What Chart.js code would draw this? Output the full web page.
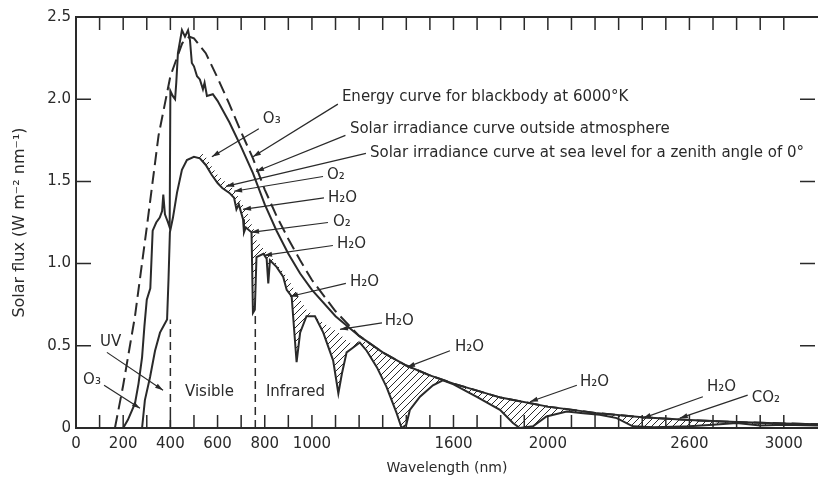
<!DOCTYPE html>
<html>
<head>
<meta charset="utf-8">
<script src="https://cdn.jsdelivr.net/npm/chart.js@4.4.1/dist/chart.umd.min.js"></script>
<style>
  html, body { margin: 0; padding: 0; background: #fff; }
  #wrap { width: 818px; height: 486px; position: relative; }
</style>
</head>
<body>
<div id="wrap"><canvas id="solarChart"></canvas></div>
<script>
// Values (wavelength in nm, flux in W m-2 nm-1)

// Energy curve for blackbody at 6000 K (dashed)
const bbNm   = [165, 200, 250, 300, 350, 400, 450, 480, 500, 550, 600, 650, 700, 750, 800, 850, 900, 950, 1000, 1100, 1200, 1300, 1400, 1500, 1600, 1800, 2000, 2200, 2400, 2600, 2800, 3000, 3150];
const bbFlux = [0, 0.26, 0.68, 1.22, 1.78, 2.14, 2.34, 2.38, 2.37, 2.28, 2.13, 1.97, 1.80, 1.64, 1.45, 1.29, 1.15, 1.02, 0.90, 0.71, 0.56, 0.46, 0.38, 0.32, 0.27, 0.185, 0.13, 0.092, 0.066, 0.048, 0.036, 0.028, 0.023];

// Solar irradiance outside atmosphere
const outNm   = [200, 220, 250, 265, 280, 290, 300, 315, 325, 340, 355, 365, 370, 377, 390, 397, 400, 410, 420, 425, 432, 449, 462, 475, 483, 491, 500, 513, 525, 538, 545, 555, 580, 600, 650, 700, 750, 800, 850, 900, 950, 1000, 1100, 1200, 1300, 1400, 1500, 1600, 1800, 2000, 2200, 2400, 2600, 2800, 3000, 3150];
const outFlux = [0, 0.05, 0.15, 0.27, 0.43, 0.62, 0.78, 0.85, 1.2, 1.25, 1.28, 1.32, 1.42, 1.3, 1.25, 1.22, 2.05, 2.02, 2.0, 2.1, 2.28, 2.42, 2.38, 2.42, 2.36, 2.22, 2.2, 2.14, 2.12, 2.06, 2.1, 2.02, 2.03, 1.99, 1.86, 1.71, 1.55, 1.36, 1.20, 1.06, 0.94, 0.84, 0.68, 0.56, 0.46, 0.38, 0.32, 0.27, 0.185, 0.13, 0.092, 0.066, 0.048, 0.036, 0.028, 0.023];

// Solar irradiance at sea level, and the level it would have without gas absorption (top of hatching)
const seaNm   = [280, 285, 292, 314, 335, 356, 386, 392, 398, 411, 428, 449, 470, 500, 525, 550, 575, 600, 620, 650, 670, 680, 690, 708, 712, 720, 744, 750, 758, 765, 794, 808, 815, 822, 850, 878, 893, 914, 935, 950, 977, 1013, 1048, 1090, 1112, 1127, 1147, 1175, 1203, 1232, 1275, 1316, 1359, 1380, 1400, 1415, 1458, 1513, 1555, 1600, 1699, 1797, 1852, 1881, 1937, 1994, 2080, 2150, 2220, 2292, 2360, 2450, 2600, 2700, 2800, 2900, 3000, 3150];
const seaFlux = [0, 0.07, 0.17, 0.31, 0.47, 0.58, 0.66, 0.9, 1.19, 1.28, 1.43, 1.57, 1.63, 1.65, 1.64, 1.60, 1.54, 1.49, 1.46, 1.43, 1.40, 1.33, 1.36, 1.27, 1.19, 1.22, 1.19, 0.70, 0.72, 1.04, 1.06, 1.03, 0.88, 1.02, 0.98, 0.92, 0.84, 0.80, 0.40, 0.58, 0.68, 0.68, 0.58, 0.41, 0.21, 0.33, 0.46, 0.49, 0.52, 0.47, 0.37, 0.25, 0.09, 0.0, 0.02, 0.11, 0.19, 0.26, 0.29, 0.265, 0.19, 0.11, 0.03, 0, 0.01, 0.07, 0.10, 0.09, 0.08, 0.06, 0.01, 0.005, 0.01, 0.02, 0.03, 0.015, 0.02, 0.015];
const seaTop  = [0, 0.07, 0.17, 0.31, 0.47, 0.58, 0.66, 0.9, 1.19, 1.28, 1.43, 1.57, 1.63, 1.65, 1.68, 1.65, 1.59, 1.54, 1.51, 1.48, 1.45, 1.42, 1.40, 1.36, 1.35, 1.33, 1.24, 1.22, 1.19, 1.14, 1.09, 1.07, 1.06, 1.05, 1.0, 0.95, 0.92, 0.87, 0.82, 0.78, 0.72, 0.68, 0.64, 0.60, 0.58, 0.56, 0.53, 0.51, 0.53, 0.52, 0.49, 0.45, 0.41, 0.40, 0.38, 0.37, 0.35, 0.32, 0.295, 0.27, 0.225, 0.19, 0.17, 0.16, 0.145, 0.13, 0.115, 0.10, 0.09, 0.08, 0.072, 0.062, 0.048, 0.042, 0.036, 0.032, 0.028, 0.023];

// UV / visible / infrared limits (dashed verticals)
const edgeNm  = [400, 760];
const edgeTop = [0.66, 0.70];

// Axis labels
const xLabels = [0, 200, 400, 600, 800, 1000, 1600, 2000, 2600, 3000];

// Annotation text with arrows, placed in data coordinates
const notes = [
    { t: 'Energy curve for blackbody at 6000°K', at: [1127, 2.01], from: [1110, 1.97], tip: [750, 1.65] },
    { t: 'Solar irradiance curve outside atmosphere', at: [1161, 1.82], from: [1142, 1.78], tip: [763, 1.56] },
    { t: 'Solar irradiance curve at sea level for a zenith angle of 0°', at: [1246, 1.67], from: [1229, 1.67], tip: [636, 1.47] },
    { t: 'O₃', at: [792, 1.88], from: [775, 1.82], tip: [576, 1.65] },
    { t: 'O₂', at: [1064, 1.54], from: [1047, 1.53], tip: [670, 1.44] },
    { t: 'H₂O', at: [1068, 1.40], from: [1051, 1.40], tip: [708, 1.33] },
    { t: 'O₂', at: [1089, 1.25], from: [1068, 1.25], tip: [742, 1.19] },
    { t: 'H₂O', at: [1106, 1.12], from: [1089, 1.11], tip: [797, 1.05] },
    { t: 'H₂O', at: [1161, 0.89], from: [1144, 0.88], tip: [907, 0.80] },
    { t: 'H₂O', at: [1309, 0.65], from: [1297, 0.64], tip: [1119, 0.60] },
    { t: 'H₂O', at: [1606, 0.49], from: [1585, 0.47], tip: [1403, 0.37] },
    { t: 'H₂O', at: [2136, 0.28], from: [2123, 0.26], tip: [1924, 0.16] },
    { t: 'H₂O', at: [2674, 0.25], from: [2657, 0.19], tip: [2403, 0.06] },
    { t: 'CO₂', at: [2864, 0.18], from: [2847, 0.20], tip: [2559, 0.06] },
    { t: 'UV', at: [102, 0.52], from: [131, 0.46], tip: [369, 0.23] },
    { t: 'O₃', at: [30, 0.29], from: [119, 0.26], tip: [271, 0.12] },
    { t: 'Visible', at: [462, 0.22] },
    { t: 'Infrared', at: [805, 0.22] }
];

const ink = '#2a2a2a';
const font = 'DejaVu Sans';

function pts(xs, ys) {
    return xs.map((x, i) => ({ x: x, y: ys[i] }));
}

function makeHatch() {
    const c = document.createElement('canvas');
    c.width = 7; c.height = 7;
    const g = c.getContext('2d');
    g.strokeStyle = ink;
    g.lineWidth = 1;
    g.beginPath();
    g.moveTo(0, 7); g.lineTo(7, 0);
    g.moveTo(-1, 1); g.lineTo(1, -1);
    g.moveTo(6, 8); g.lineTo(8, 6);
    g.stroke();
    return g.createPattern(c, 'repeat');
}

// frame with inward tick marks on all sides
const framePlugin = {
    id: 'frame',
    afterDatasetsDraw(chart) {
        const { ctx, chartArea: a, scales: { x, y } } = chart;
        ctx.save();
        ctx.strokeStyle = ink;
        ctx.lineWidth = 2;
        ctx.beginPath();
        ctx.moveTo(a.right, a.top);
        ctx.lineTo(a.left, a.top);
        ctx.lineTo(a.left, a.bottom);
        ctx.lineTo(a.right, a.bottom);
        ctx.stroke();
        ctx.lineWidth = 1.5;
        ctx.beginPath();
        x.ticks.forEach(t => {
            if (t.value <= 0 || t.value % 100 !== 0) return;
            const px = x.getPixelForValue(t.value);
            ctx.moveTo(px, a.top); ctx.lineTo(px, a.top + 13);
            ctx.moveTo(px, a.bottom); ctx.lineTo(px, a.bottom - 13);
        });
        y.ticks.forEach(t => {
            if (t.value <= 0 || t.value >= 2.5) return;
            const py = y.getPixelForValue(t.value);
            ctx.moveTo(a.left, py); ctx.lineTo(a.left + 15, py);
            ctx.moveTo(a.right - 3, py); ctx.lineTo(a.right - 18, py);
        });
        ctx.stroke();
        ctx.restore();
    }
};

// labels and pointer lines
const notesPlugin = {
    id: 'notes',
    afterDraw(chart) {
        const { ctx, scales: { x, y } } = chart;
        ctx.save();
        ctx.strokeStyle = ink;
        ctx.fillStyle = ink;
        ctx.lineWidth = 1.2;
        ctx.font = '15px "' + font + '"';
        ctx.textAlign = 'left';
        ctx.textBaseline = 'middle';
        notes.forEach(n => {
            ctx.fillText(n.t, x.getPixelForValue(n.at[0]), y.getPixelForValue(n.at[1]));
            if (!n.tip) return;
            const x0 = x.getPixelForValue(n.from[0]), y0 = y.getPixelForValue(n.from[1]);
            const x1 = x.getPixelForValue(n.tip[0]), y1 = y.getPixelForValue(n.tip[1]);
            ctx.beginPath();
            ctx.moveTo(x0, y0); ctx.lineTo(x1, y1);
            ctx.stroke();
            const ang = Math.atan2(y1 - y0, x1 - x0);
            ctx.beginPath();
            ctx.moveTo(x1, y1);
            ctx.lineTo(x1 - 8 * Math.cos(ang) + 2.5 * Math.sin(ang), y1 - 8 * Math.sin(ang) - 2.5 * Math.cos(ang));
            ctx.lineTo(x1 - 8 * Math.cos(ang) - 2.5 * Math.sin(ang), y1 - 8 * Math.sin(ang) + 2.5 * Math.cos(ang));
            ctx.closePath();
            ctx.fill();
        });
        ctx.restore();
    }
};

const line = { showLine: true, pointRadius: 0, borderColor: ink, borderWidth: 2, fill: false };

const ctxSolar = document.getElementById('solarChart').getContext('2d');
const solarChart = new Chart(ctxSolar, {
    type: 'scatter',
    data: {
        datasets: [
            { ...line, label: 'No absorption', data: pts(seaNm, seaTop), borderColor: 'transparent', borderWidth: 1 },
            { ...line, label: 'Sea level', data: pts(seaNm, seaFlux), fill: '-1', backgroundColor: makeHatch() },
            { ...line, label: 'Outside atmosphere', data: pts(outNm, outFlux) },
            { ...line, label: 'Blackbody 6000 K', data: pts(bbNm, bbFlux), borderDash: [13, 6] },
            { ...line, label: 'UV limit', data: [{ x: edgeNm[0], y: 0 }, { x: edgeNm[0], y: edgeTop[0] }], borderWidth: 1.5, borderDash: [8, 5] },
            { ...line, label: 'IR limit', data: [{ x: edgeNm[1], y: 0 }, { x: edgeNm[1], y: edgeTop[1] }], borderWidth: 1.5, borderDash: [8, 5] }
        ]
    },
    options: {
        responsive: true, maintainAspectRatio: false,
        animation: false,
        layout: { padding: { top: 17, right: 0, left: 0, bottom: 0 } },
        plugins: { legend: { display: false }, tooltip: { enabled: false } },
        scales: {
            x: {
                type: 'linear', min: 0, max: 3145,
                grid: { display: false, drawTicks: false }, border: { display: false },
                ticks: {
                    stepSize: 100, autoSkip: false, maxRotation: 0, padding: 7,
                    color: ink, font: { family: font, size: 15 },
                    callback: v => xLabels.includes(v) ? String(v) : ''
                },
                title: { display: true, text: 'Wavelength (nm)', color: ink, font: { family: font, size: 14 }, padding: { top: 0, bottom: 9 } },
                afterFit: s => { s.height = 58; s.paddingLeft = 0; s.paddingRight = 0; }
            },
            y: {
                min: 0, max: 2.5,
                grid: { display: false, drawTicks: false }, border: { display: false },
                ticks: {
                    stepSize: 0.5, padding: 5,
                    color: ink, font: { family: font, size: 15 },
                    callback: v => v === 0 ? '0' : v.toFixed(1)
                },
                title: { display: true, text: 'Solar flux (W m⁻² nm⁻¹)', color: ink, font: { family: font, size: 16 }, padding: { top: 10, bottom: 0 } },
                afterFit: s => { s.width = 76; }
            }
        }
    },
    plugins: [framePlugin, notesPlugin]
});
</script>
</body>
</html>
